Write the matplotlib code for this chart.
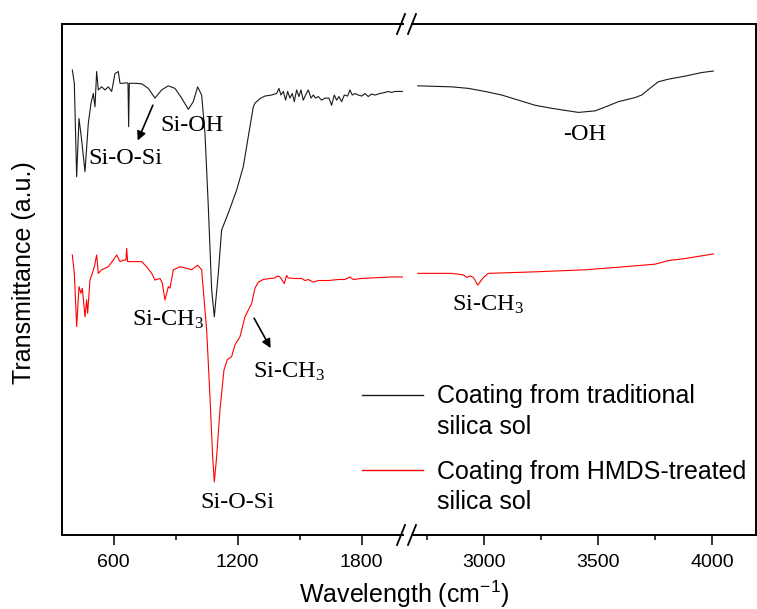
import matplotlib
matplotlib.use("Agg")
import matplotlib.pyplot as plt
from matplotlib.lines import Line2D
from matplotlib.ticker import FixedLocator

plt.rcParams['font.family'] = ['Liberation Sans', 'DejaVu Sans']
plt.rcParams['mathtext.default'] = 'regular'

# --- data (wavenumber cm-1, transmittance a.u.) ---
trad_wn_low = [400, 409.6, 420.9, 432.2, 445.1, 461.2, 477.4, 490.3, 501.6, 509.6, 517.7,
               525.7, 541.9, 558.0, 574.1, 590.3, 606.4, 622.5, 630.6, 646.7, 662.8,
               669.3, 672.5, 675.7, 703.2, 735.4, 767.7, 799.9, 832.2, 864.4, 896.7,
               928.9, 961.2, 985.3, 1006.3, 1025.7, 1041.8, 1057.9, 1074.1, 1087.0,
               1106.3, 1122.5, 1154.7, 1195.0, 1227.3, 1251.5, 1275.7,
               1283.7, 1307.9, 1332.1, 1364.3, 1388.5, 1399.8, 1409.5, 1420.8, 1432.1,
               1441.7, 1453.0, 1464.3, 1474.0, 1485.3, 1496.6, 1506.2, 1517.5, 1528.8,
               1541.7, 1554.6, 1565.9, 1577.2, 1590.1, 1606.2, 1622.4, 1641.7, 1654.6,
               1667.5, 1678.8, 1690.1, 1703.0, 1715.9, 1732.0, 1743.3, 1754.6, 1767.5,
               1783.6, 1799.8, 1815.9, 1832.0, 1848.1, 1864.3, 1888.5, 1912.6, 1928.8,
               1944.9, 1961.0, 2001.4]
trad_t_low = [91.0, 88.4, 70.1, 81.5, 77.3, 71.1, 80.6, 84.5, 86.4, 83.8, 90.7,
              87.1, 87.7, 87.1, 87.7, 86.8, 90.3, 90.7, 88.4, 88.4, 88.5,
              88.4, 79.9, 88.4, 88.4, 88.3, 87.4, 85.5, 87.1, 87.9, 87.4,
              85.5, 83.3, 84.8, 87.7, 86.1, 78.6, 64.3, 48.0, 42.7,
              51.2, 59.7, 63.0, 67.5, 72.1, 78.0, 83.8,
              84.5, 85.4, 85.9, 86.1, 86.4, 87.4, 86.1, 86.8, 85.1,
              86.8, 85.5, 86.4, 84.8, 87.1, 85.8, 87.1, 85.1, 86.1,
              87.1, 85.5, 86.1, 85.5, 85.8, 85.1, 85.5, 85.5, 84.1,
              86.1, 85.1, 85.8, 84.8, 86.1, 85.9, 87.1, 86.1, 86.4,
              86.1, 85.9, 86.4, 85.8, 86.3, 86.1, 86.4, 86.6, 86.8,
              86.6, 86.8, 86.8]
trad_wn_high = [2708.3, 2857.4, 2930.5, 3003.6, 3076.7, 3149.8, 3222.9, 3296.0, 3369.1,
                3413.0, 3486.1, 3544.5, 3588.4, 3661.5, 3690.7, 3734.6, 3763.8, 3807.7,
                3880.8, 3954.0, 4005.1]
trad_t_high = [87.9, 87.7, 87.4, 86.8, 86.1, 85.1, 84.1, 83.5, 83.0,
               82.7, 83.0, 84.0, 84.8, 85.6, 86.1, 87.7, 88.7, 89.2,
               89.8, 90.5, 90.8]

hmds_wn_low = [400.0, 409.6, 420.9, 432.2, 441.9, 448.3, 461.2, 469.3, 474.1, 485.4, 496.7,
               506.4, 517.7, 525.7, 541.9, 558.0, 574.1, 598.3, 614.5, 630.6, 646.7,
               659.6, 662.8, 667.7, 703.2, 735.4, 759.6, 783.8, 799.9, 824.1, 835.4,
               848.3, 864.4, 872.5, 888.6, 920.9, 953.1, 977.3, 1006.3, 1025.7, 1049.9,
               1066.0, 1078.9, 1087.0, 1098.3, 1114.4, 1133.7, 1149.9, 1170.8, 1186.9,
               1211.2, 1235.4, 1256.3, 1267.6, 1283.7, 1299.8, 1324.0, 1356.3, 1380.5,
               1393.4, 1404.7, 1415.9, 1425.6, 1436.9, 1445.0, 1477.2, 1509.5, 1525.6,
               1541.8, 1565.9, 1590.1, 1638.5, 1686.9, 1719.1, 1743.3, 1759.4, 1799.8,
               1848.1, 1896.5, 1944.9, 2001.4]
hmds_t_low = [54.8, 51.2, 40.8, 48.6, 47.3, 48.3, 42.7, 46.0, 43.4, 49.9, 51.2,
              52.5, 54.8, 51.2, 51.9, 52.2, 52.5, 53.8, 54.8, 53.5, 53.8,
              53.8, 56.1, 53.5, 53.5, 53.5, 52.5, 51.2, 49.9, 50.2, 49.3,
              46.0, 48.6, 48.3, 51.9, 52.5, 52.2, 51.9, 52.8, 51.9, 40.1,
              27.1, 15.3, 10.4, 15.3, 24.5, 32.3, 34.3, 34.9, 37.2,
              38.8, 42.7, 44.4, 45.3, 48.3, 49.5, 50.0, 50.2, 50.3,
              50.7, 50.5, 49.8, 49.2, 50.8, 50.3, 50.2, 50.2, 49.8,
              50.0, 49.5, 49.8, 49.8, 50.0, 50.0, 50.5, 50.0, 50.2,
              50.3, 50.4, 50.5, 50.5]
hmds_wn_high = [2708.3, 2857.4, 2908.6, 2923.2, 2937.8, 2952.4, 2971.4, 2996.3, 3018.2,
                3222.9, 3442.2, 3588.4, 3749.2, 3807.7, 3880.8, 4005.1]
hmds_t_high = [51.2, 51.2, 50.9, 50.4, 50.7, 50.4, 48.9, 50.4, 51.2,
               51.5, 51.9, 52.4, 53.0, 53.7, 54.1, 55.0]

major_low, minor_low = [600, 1200, 1800], [900, 1500]
major_high, minor_high = [3000, 3500, 4000], [2750, 3250, 3750]

W, H = 757, 609
fig = plt.figure(figsize=(W / 100, H / 100), dpi=100)

def fx(x):
    return x / W

def fy(y):
    return 1 - y / H

top, bot = 24, 535
ax1 = fig.add_axes([fx(62), fy(bot), (403 - 62) / W, (bot - top) / H])
ax2 = fig.add_axes([fx(412), fy(bot), (756 - 412) / W, (bot - top) / H])

black, red = '#1a1a1a', '#ff0000'
ax1.plot(trad_wn_low, trad_t_low, color=black, lw=0.8)
ax1.plot(hmds_wn_low, hmds_t_low, color=red, lw=0.8)
ax2.plot(trad_wn_high, trad_t_high, color=black, lw=0.8)
ax2.plot(hmds_wn_high, hmds_t_high, color=red, lw=0.8)

ax1.set_xlim(350, 2000)
ax2.set_xlim(2683, 4192)
for ax, mj, mn in [(ax1, major_low, minor_low), (ax2, major_high, minor_high)]:
    ax.set_ylim(0, 100)
    ax.set_yticks([])
    ax.xaxis.set_major_locator(FixedLocator(mj))
    ax.xaxis.set_minor_locator(FixedLocator(mn))
    ax.tick_params(axis='x', which='major', direction='out', length=7, width=1.1,
                   labelsize=14, pad=7)
    ax.tick_params(axis='x', which='minor', direction='out', length=3.6, width=1.1)
    for s in ax.spines.values():
        s.set_linewidth(1.4)
ax1.spines['right'].set_visible(False)
ax2.spines['left'].set_visible(False)

# axis break marks
for yc in (top, bot):
    for x0 in (397, 408):
        fig.add_artist(Line2D([fx(x0), fx(x0 + 8)], [fy(yc + 10), fy(yc - 10)],
                              color='black', lw=1.3))

fig.text(fx(24), fy(273), 'Transmittance (a.u.)', rotation=90, ha='center',
         va='center', fontsize=18)
fig.text(fx(404), fy(594), 'Wavelength (cm$^{-1}$)', ha='center', va='center',
         fontsize=18)

# peak labels
serif = dict(family='Liberation Serif', fontsize=17.5, va='baseline', ha='left')
ax1.text(476, 72.6, 'Si-O-Si', **serif)
ax1.text(824, 79.1, 'Si-OH', **serif)
ax1.text(687, 40.9, 'Si-CH$_3$', **serif)
ax1.text(1275, 30.7, 'Si-CH$_3$', **serif)
ax1.text(1018, 5.3, 'Si-O-Si', **serif)
ax2.text(3345, 77.3, '-OH', **serif)
ax2.text(2857, 43.9, 'Si-CH$_3$', **serif)

arrow = dict(arrowstyle='-|>', color='black', lw=1.2, mutation_scale=13)
ax1.annotate('', xy=(711, 76.7), xytext=(795, 84.6), arrowprops=arrow)
ax1.annotate('', xy=(1366, 36.1), xytext=(1273, 42.9), arrowprops=arrow)

# legend with handle next to the first text line
entries = [(black, 'Coating from traditional', 'silica sol', 395, 403, 434),
           (red, 'Coating from HMDS-treated', 'silica sol', 470, 479, 509)]
for col, l1, l2, yl, b1, b2 in entries:
    fig.add_artist(Line2D([fx(362), fx(423)], [fy(yl), fy(yl)], color=col, lw=1.0))
    fig.text(fx(437), fy(b1), l1, fontsize=18, va='baseline')
    fig.text(fx(437), fy(b2), l2, fontsize=18, va='baseline')

fig.savefig('out.png', dpi=100)
